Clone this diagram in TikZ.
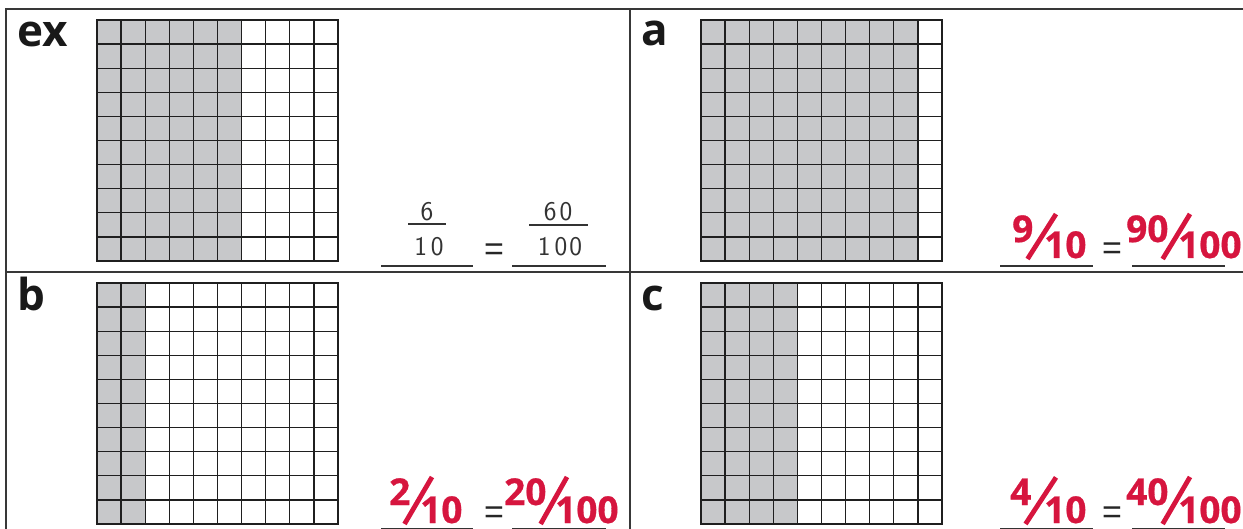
\documentclass[tikz,border=0pt]{standalone}
\usepackage{fontspec}
\usetikzlibrary{calc}
\newfontfamily\osans{Open Sans}
\newfontfamily\redsans{Open Sans}[BoldFeatures={FakeBold=0.8}]
\newfontfamily\libsans{Liberation Sans}
\definecolor{ansred}{RGB}{214,21,62}
\definecolor{cellgray}{RGB}{199,200,202}
\newcommand{\hundredgrid}[3]{%
  \fill[cellgray] (#1,#2) rectangle ++(#3*24.1,241);
  \foreach \i in {0,...,10}{%
    \draw[gridline] (#1+\i*24.1,#2) -- ++(0,241);
    \draw[gridline] (#1,#2+\i*24.1) -- ++(241,0);
  }%
}
\begin{document}
\begin{tikzpicture}[x=1pt,y=-1pt,
  frame/.style={line width=1.6pt, draw=black!78},
  gridline/.style={line width=1.3pt, draw=black!88, line cap=rect},
  panellabel/.style={font=\osans\bfseries\fontsize{44}{44}\selectfont, inner sep=0pt, anchor=base west, text=black!90},
  ans/.style={font=\redsans\bfseries\fontsize{37}{37}\selectfont, text=ansred, inner sep=0pt, anchor=base west},
  slashline/.style={line width=4.8pt, draw=ansred},
  eqsign/.style={font=\libsans\fontsize{34}{34}\selectfont, inner sep=0pt, text=black!85},
  hand/.style={font=\sffamily\fontsize{27}{27}\selectfont, inner sep=0pt, text=black!80},
  uline/.style={line width=1.4pt, draw=black!80}]
\useasboundingbox (0,0) rectangle (1243,529);
\clip (0,0) rectangle (1243,529);
% frame
\draw[frame] (1243,9) -- (6,9) -- (6,529);
\draw[frame] (630,9) -- (630,529);
\draw[frame] (6,272) -- (1243,272);
% grids
\hundredgrid{97}{20}{6}
\hundredgrid{701}{20}{9}
\hundredgrid{97}{283}{2}
\hundredgrid{701}{283}{4}
% labels
\node[panellabel] (lex) at (17,47) {ex};
\node[panellabel] (la) at (641,46) {a};
\node[panellabel] (lb) at (17,311) {b};
\node[panellabel] (lc) at (641,311) {c};
% example
\node[hand] (exn) at (427,212) {6};
\node[hand] (exd) at (429,247) {1\hspace{4pt}0};
\node[hand] (exn2) at (558,212) {6\hspace{3pt}0};
\node[hand] (exd2) at (560,247) {1\hspace{4pt}0\hspace{2pt}0};
\draw[uline] (408,224) -- (446,224);
\draw[uline] (529,225) -- (588,225);
\node[eqsign] (exeq) at (494,252) {=};
\draw[uline] (381,266) -- (473,266);
\draw[uline] (512,266) -- (606,266);
% a
\node[ans] (an) at (1012,242) {9};
\node[ans] (ad) at (1044,258) {10};
\draw[slashline] ($(an.east |- ad.base)+(-6,1)$) -- ($(ad.west |- an.north)+(12,-1)$);
\node[eqsign] (aeq) at (1112,251) {=};
\node[ans] (an2) at (1126,242) {90};
\node[ans] (ad2) at (1178,258) {100};
\draw[slashline] ($(an2.east |- ad2.base)+(-6,1)$) -- ($(ad2.west |- an2.north)+(12,-1)$);
\draw[uline] (1000,266) -- (1093,266);
\draw[uline] (1132,266) -- (1225,266);
% b
\node[ans] (bn) at (389,505) {2};
\node[ans] (bd) at (420,523) {10};
\draw[slashline] ($(bn.east |- bd.base)+(-6,1)$) -- ($(bd.west |- bn.north)+(12,-1)$);
\node[eqsign] (beq) at (494,515) {=};
\node[ans] (bn2) at (504,505) {20};
\node[ans] (bd2) at (555,523) {100};
\draw[slashline] ($(bn2.east |- bd2.base)+(-6,1)$) -- ($(bd2.west |- bn2.north)+(12,-1)$);
\draw[uline] (381,529) -- (473,529);
\draw[uline] (512,529) -- (606,529);
% c
\node[ans] (cn) at (1010,505) {4};
\node[ans] (cd) at (1044,523) {10};
\draw[slashline] ($(cn.east |- cd.base)+(-6,1)$) -- ($(cd.west |- cn.north)+(12,-1)$);
\node[eqsign] (ceq) at (1112,515) {=};
\node[ans] (cn2) at (1126,505) {40};
\node[ans] (cd2) at (1178,523) {100};
\draw[slashline] ($(cn2.east |- cd2.base)+(-6,1)$) -- ($(cd2.west |- cn2.north)+(12,-1)$);
\draw[uline] (1000,529) -- (1093,529);
\draw[uline] (1132,529) -- (1225,529);
\end{tikzpicture}
\end{document}
